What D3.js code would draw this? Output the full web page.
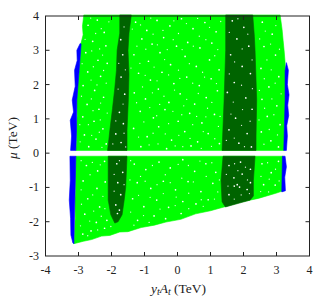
<!DOCTYPE html>
<html><head><meta charset="utf-8">
<script src="https://cdn.jsdelivr.net/npm/d3@7"></script>
<style>html,body{margin:0;padding:0;background:#fff}svg{display:block}text{font-family:"Liberation Serif",serif;fill:#222}</style>
</head><body><svg id="c" width="332" height="300"></svg>
<script>
const xTicks=[-4,-3,-2,-1,0,1,2,3,4];
const yTicks=[-3,-2,-1,0,1,2,3,4];
const greenUpper=[[-2.84,4.03],[-2.88,3.7],[-2.86,3.45],[-2.93,3.18],[-2.95,2.8],[-2.98,2.42],[-3.02,2],[-3.05,1.55],[-3.04,1.1],[-3.07,.67],[-3.06,.35],[-3.08,.08],[3.23,.08],[3.25,.5],[3.24,.9],[3.27,1.25],[3.26,1.55],[3.28,2.1],[3.26,2.65],[3.23,3],[3.2,3.29],[3.17,3.6],[3.11,4.03]];
const greenLower=[[-3.08,-.09],[-3.1,-.7],[-3.09,-1.1],[-3.11,-1.37],[-3.1,-1.9],[-3.14,-2.64],[-2.85,-2.57],[-2.6,-2.52],[-2.3,-2.42],[-2.05,-2.4],[-1.75,-2.3],[-1.5,-2.29],[-1.1,-2.17],[-.7,-2.1],[-.35,-2.01],[.1,-1.93],[.55,-1.77],[1.0,-1.68],[1.41,-1.57],[1.9,-1.43],[2.45,-1.32],[2.98,-1.17],[3.2,-1.1],[3.21,-.6],[3.2,-.09]];
const darkLeftUpper=[[-1.75,4.03],[-1.4,4.03],[-1.47,3.5],[-1.5,3],[-1.47,2.3],[-1.49,1.55],[-1.53,.67],[-1.53,.08],[-2.12,.08],[-2.08,.4],[-2.05,.67],[-1.97,1.3],[-1.9,1.9],[-1.85,2.42],[-1.83,3],[-1.75,3.5]];
const darkLeftLower=[[-2.1,-.09],[-1.53,-.09],[-1.57,-1],[-1.62,-1.4],[-1.68,-1.8],[-1.8,-2.0],[-1.9,-2.04],[-2.02,-1.8],[-2.1,-1.37]];
const darkRightUpper=[[1.46,4.03],[2.28,4.03],[2.33,3.4],[2.35,3],[2.4,1.55],[2.38,.5],[2.38,.08],[1.35,.08],[1.41,1.5],[1.46,3]];
const darkRightLower=[[1.38,-.09],[2.35,-.09],[2.3,-.8],[2.3,-1.25],[2.2,-1.37],[1.45,-1.57],[1.35,-1.42],[1.32,-.8]];
const blueUpperLeft=[[-2.95,3.2],[-2.92,3.18],[-2.98,2.42],[-3.05,1.55],[-3.06,.67],[-3.08,.08],[-3.24,.08],[-3.21,.5],[-3.25,.96],[-3.15,1.2],[-3.19,1.55],[-3.1,1.95],[-3.12,2.42],[-3.04,2.7],[-3.05,3]];
const blueLowerLeft=[[-3.08,-.09],[-3.11,-1.37],[-3.14,-2.64],[-3.17,-2.62],[-3.23,-2.39],[-3.24,-1.9],[-3.28,-1.37],[-3.25,-.8],[-3.26,-.09]];
const blueUpperRight=[[3.3,2.64],[3.26,2.4],[3.26,1.55],[3.22,.08],[3.3,.08],[3.33,.5],[3.31,.8],[3.37,1.1],[3.34,1.4],[3.38,1.7],[3.33,2.0],[3.36,2.42]];
const blueLowerRight=[[3.18,-.09],[3.16,-1.13],[3.27,-1.1],[3.25,-.7],[3.3,-.4],[3.26,-.09]];
const gapSpecks=[[-2.71,3.73],[-2.43,3.88],[-2.22,3.52],[-2.57,3.26],[-2.17,3.13],[-2.78,2.93],[-2.41,2.71],[-2.13,2.62],[-2.72,2.37],[-2.33,2.24],[-2.86,1.97],[-2.51,1.83],[-2.24,1.63],[-2.74,1.42],[-2.38,1.28],[-2.87,1.06],[-2.53,.93],[-2.26,.71],[-2.82,.53],[-2.47,.41],[-2.16,.27],[-2.69,.19],
[-1.27,3.82],[-.93,3.58],[-.62,3.87],[-.23,3.71],[.12,3.92],[.47,3.63],[.83,3.81],[1.17,3.54],[-1.08,3.33],[-.77,3.18],[-.42,3.37],[-.03,3.12],[.31,3.23],[.68,3.07],[1.04,3.21],[-1.32,2.87],[-.88,2.68],[-.53,2.93],[-.21,2.58],[.23,2.82],[.57,2.53],[.97,2.72],[1.26,2.43],[-1.18,2.33],[-.82,2.13],[-.47,2.36],[-.11,2.03],[.28,2.22],[.66,1.97],[1.02,2.17],[-1.31,1.76],[-.97,1.58],[-.58,1.87],[-.26,1.48],[.08,1.73],[.52,1.43],[.87,1.62],[1.21,1.82],[-1.13,1.22],[-.73,1.03],[-.38,1.27],[.02,.93],[.37,1.16],[.74,.88],[1.12,1.13],[-1.33,.72],[-.92,.48],[-.57,.77],[-.18,.38],[.22,.63],[.61,.33],[.93,.57],[1.27,.28],[-1.11,.19],[-.33,.13],[.41,.21],
[2.57,3.82],[2.87,3.47],[2.62,3.11],[2.97,2.86],[2.53,2.47],[3.07,2.23],[2.77,1.93],[2.56,1.57],[3.01,1.38],[2.72,1.07],[3.11,.83],[2.54,.62],[2.83,.36],[3.06,.18],
[-1.72,3.31],[-1.66,2.87],[-1.71,2.22],[-1.6,1.72],[-1.76,1.19],[-1.64,.86],[-1.87,.56],[-1.71,.31],[1.66,3.86],[2.01,3.67],[1.8,3.33],[2.16,3.12],[1.61,2.87],[1.96,2.53],[2.21,2.32],[1.72,2.06],[1.51,1.77],[2.07,1.61],[2.26,1.28],[1.76,1.02],[1.56,.68],[2.11,.57],[1.86,.29],[2.24,.18],
[-2.76,-.36],[-2.42,-.52],[-2.21,-.24],[-2.86,-.81],[-2.44,-1.03],[-2.19,-.84],[-2.72,-1.33],[-2.36,-1.57],[-2.81,-1.78],[-2.46,-2.02],[-2.14,-1.96],[-2.87,-2.36],[-2.62,-2.27],[-2.21,-2.19],
[-1.31,-.32],[-.96,-.48],[-.56,-.26],[-.22,-.43],[.16,-.19],[.52,-.53],[.86,-.31],[1.16,-.56],[-1.22,-.86],[-.81,-1.03],[-.43,-.82],[-.06,-1.07],[.32,-.83],[.71,-1.12],[1.07,-.88],[-1.36,-1.33],[-1.02,-1.56],[-.63,-1.37],[-.27,-1.58],[.16,-1.41],[.56,-1.48],[.93,-1.36],[-1.21,-1.96],[-.71,-1.83],[-.36,-1.91],[.11,-1.76],
[2.56,-.31],[2.84,-.57],[3.06,-.24],[2.61,-.92],[2.96,-.93],
[-1.84,-.31],[-1.66,-.56],[-1.81,-.86],[-1.72,-1.21],[-1.87,-1.51],[-1.76,-1.66],[-1.82,-1.76],[1.56,-.36],[1.91,-.26],[2.21,-.47],[1.71,-.72],[1.72,-.96],[1.81,-.92],[1.88,-.99],[2.11,-1.06],[1.56,-1.21],[1.96,-.61],[2.21,-.86]];
const fineSpecks=[[-2.63,3.94],[-2.31,3.63],[-2.08,3.83],[-2.48,3.49],[-2.8,3.32],[-2.36,3.04],[-2.6,2.98],[-2.27,2.86],[-2.89,2.61],[-2.55,2.52],[-2.24,2.41],[-2.62,2.13],[-2.16,2.04],[-2.44,1.99],[-2.91,1.66],[-2.61,1.58],[-2.33,1.46],[-2.56,1.24],[-2.13,1.17],[-2.96,.83],[-2.7,.83],[-2.34,.97],[-2.37,.61],[-2.6,.52],[-2.95,.33],[-2.29,.17],
[-1.37,3.62],[-1.12,3.74],[-.81,3.94],[-.74,3.47],[-.44,3.58],[-.11,3.86],[.03,3.49],[.27,3.78],[.61,3.93],[.66,3.41],[.97,3.67],[1.31,3.84],[-1.23,3.12],[-.96,3.03],[-.61,3.16],[-.31,3.02],[-.13,3.31],[.14,3.02],[.48,3.12],[.86,3.31],[1.22,3.02],[-1.14,2.62],[-.71,2.51],[-.39,2.73],[.03,2.42],[.36,2.61],[.76,2.36],[1.13,2.84],[-1.41,2.48],[-.98,2.27],[-.62,2.11],[-.27,2.28],[.07,2.18],[.46,2.04],[.82,2.22],[1.18,2.03],[-1.06,1.93],[-.76,1.76],[-.41,1.66],[-.09,1.84],[.28,1.57],[.63,1.74],[1.04,1.48],[-1.24,1.47],[-.84,1.33],[-.54,1.42],[-.14,1.22],[.19,1.38],[.58,1.07],[.91,1.31],[1.29,1.07],[-1.02,.91],[-.63,1.09],[-.27,.86],[.13,1.12],[.46,.83],[.86,1.06],[1.24,.78],[-1.18,.47],[-.74,.58],[-.37,.56],[.04,.52],[.38,.43],[.78,.63],[1.13,.42],[-.86,.24],[-.59,.27],[-.07,.21],[.16,.19],[.72,.14],[1.03,.2],
[2.66,3.56],[2.98,3.72],[2.49,3.33],[2.82,3.18],[3.09,3.03],[2.71,2.72],[2.84,2.43],[2.63,2.17],[2.96,2.04],[2.48,1.83],[3.14,1.73],[2.86,1.58],[2.64,1.31],[2.92,1.12],[2.47,.97],[2.78,.69],[3.03,.53],[2.62,.26],
[-1.62,3.68],[-1.78,2.62],[-1.58,2.43],[-1.8,1.87],[-1.65,1.43],[-1.87,.94],[-1.62,.58],[-1.96,.27],[-1.57,.18],[1.83,3.92],[1.57,3.52],[2.13,3.47],[1.96,3.04],[1.73,2.66],[2.26,2.72],[1.57,2.31],[1.94,1.98],[2.27,1.88],[1.69,1.49],[1.97,1.27],[1.62,1.14],[2.2,.93],[1.94,.81],[1.48,.37],[1.72,.44],[2.03,.19],
[-2.92,-.22],[-2.58,-.27],[-2.34,-.34],[-2.65,-.63],[-2.92,-1.07],[-2.57,-1.22],[-2.26,-1.26],[-2.91,-1.49],[-2.54,-1.69],[-2.2,-1.62],[-2.66,-1.98],[-2.31,-1.84],[-2.94,-2.12],[-2.42,-2.24],[-2.72,-2.41],[-2.02,-2.14],
[-1.42,-.22],[-1.12,-.68],[-.76,-.36],[-.37,-.63],[.02,-.33],[.33,-.36],[.68,-.23],[1.04,-.28],[1.27,-.78],[-1.44,-.78],[-.98,-.82],[-.62,-.92],[-.22,-.86],[.13,-.73],[.48,-.84],[.87,-.68],[1.22,-1.13],[-1.18,-1.23],[-.83,-1.29],[-.43,-1.18],[-.04,-1.28],[.34,-1.17],[.72,-1.36],[1.12,-1.34],[-1.42,-1.72],[-1.03,-1.82],[-.53,-1.63],[-.07,-1.53],[.34,-1.62],[.78,-1.55],[-.86,-2.02],[-1.32,-2.1],
[2.73,-.28],[2.97,-.47],[2.53,-.68],[2.78,-.76],[3.08,-.81],[2.52,-1.12],[2.76,-1.13],
[-1.92,-.62],[-1.76,-.22],[-1.62,-.92],[-1.92,-1.11],[1.73,-.31],[2.06,-.41],[1.48,-.62],[1.83,-.51],[2.12,-.78],[1.53,-.96],[1.93,-1.22],[1.72,-1.34],[2.18,-1.18]];
const W=332,H=300,L=45.5,R=309.5,T=16,B=256;
const x=d3.scaleLinear().domain([-4,4]).range([L,R]);
const y=d3.scaleLinear().domain([-3,4]).range([B,T]);
const svg=d3.select("#c");
const line=d3.line().x(d=>x(d[0])).y(d=>y(d[1])).curve(d3.curveLinearClosed);
function region(d,c){svg.append("path").attr("d",line(d)).attr("fill",c).attr("stroke",c).attr("stroke-width",.6);}
[greenUpper,greenLower].forEach(d=>region(d,"#00ff00"));
[darkLeftUpper,darkLeftLower,darkRightUpper,darkRightLower].forEach(d=>region(d,"#006400"));
[blueUpperLeft,blueLowerLeft,blueUpperRight,blueLowerRight].forEach(d=>region(d,"#0000ff"));
svg.append("g").selectAll("circle").data(gapSpecks).join("circle")
 .attr("cx",d=>x(d[0])).attr("cy",d=>y(d[1])).attr("r",.85).attr("fill","#fff");
svg.append("g").selectAll("circle").data(fineSpecks).join("circle")
 .attr("cx",d=>x(d[0])).attr("cy",d=>y(d[1])).attr("r",.65).attr("fill","#fff").attr("opacity",.9);
const ax=svg.append("g").attr("stroke","#222").attr("fill","none");
ax.append("rect").attr("x",L).attr("y",T).attr("width",R-L).attr("height",B-T).attr("stroke-width",1);
xTicks.slice(1,-1).forEach(t=>{ax.append("path").attr("d",`M${x(t)},${B}v-4M${x(t)},${T}v4`);});
yTicks.slice(1,-1).forEach(t=>{ax.append("path").attr("d",`M${L},${y(t)}h4M${R},${y(t)}h-4`);});
svg.append("g").selectAll("text").data(xTicks).join("text").attr("x",d=>x(d)).attr("y",274).attr("text-anchor","middle").attr("font-size",12).text(d=>d);
svg.append("g").selectAll("text").data(yTicks).join("text").attr("x",39).attr("y",d=>y(d)+4).attr("text-anchor","end").attr("font-size",12).text(d=>d);
const xl=svg.append("text").attr("x",178.5).attr("y",293).attr("text-anchor","middle").attr("font-size",13.5);
xl.append("tspan").attr("font-style","italic").text("y");
xl.append("tspan").attr("font-style","italic").attr("font-size",10).attr("dy",2).text("t");
xl.append("tspan").attr("font-style","italic").attr("dy",-2).text("A");
xl.append("tspan").attr("font-style","italic").attr("font-size",10).attr("dy",2).text("t");
xl.append("tspan").attr("dy",-2).text(" (TeV)");
const yl=svg.append("text").attr("transform","translate(17,138) rotate(-90)").attr("text-anchor","middle").attr("font-size",13.5);
yl.append("tspan").attr("font-style","italic").text("μ");
yl.append("tspan").text(" (TeV)");
</script></body></html>
